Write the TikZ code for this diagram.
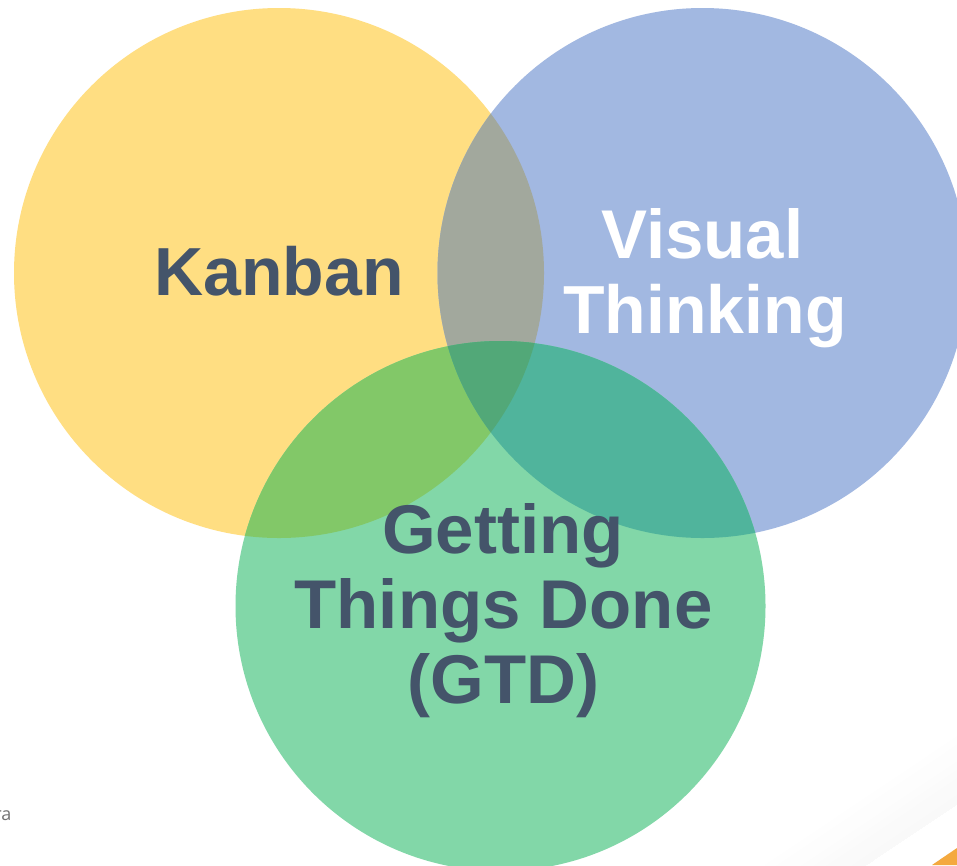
\documentclass[tikz,border=0pt]{standalone}
\usepackage{fontspec}
\setmainfont{Liberation Sans}
\newfontfamily\fragfont{Open Sans}
\usetikzlibrary{calc}
\definecolor{cY}{HTML}{FFDE82}
\definecolor{cB}{HTML}{A2B8E1}
\definecolor{cG}{HTML}{82D7A8}
\definecolor{cYB}{HTML}{A2A89D}
\definecolor{cYG}{HTML}{82C868}
\definecolor{cBG}{HTML}{50B49C}
\definecolor{cYBG}{HTML}{52A878}
\definecolor{cInk}{HTML}{44546A}
\definecolor{cOr}{HTML}{F4A93F}
\tikzset{
  x=1pt,y=-1pt,
  biglabel/.style={font=\fontsize{68}{75}\selectfont\bfseries,align=center,inner sep=0pt,anchor=base},
  biggerlabel/.style={font=\fontsize{69}{75}\selectfont\bfseries,align=center,inner sep=0pt,anchor=base},
}
\newcommand{\circK}{(279,273) circle[radius=265]}
\newcommand{\circV}{(702.5,273) circle[radius=265]}
\newcommand{\circG}{(500.5,606) circle[radius=265]}
\begin{document}
\begin{tikzpicture}
\useasboundingbox (0,0) rectangle (957,865);
\clip (0,0) rectangle (957,865);
\fill[white] (0,0) rectangle (957,865);
% faint shadow, built from nested bands, and the orange corner
\foreach \k in {1,...,8}{
  \pgfmathsetmacro{\off}{(9-\k)*7}
  \pgfmathsetmacro{\shadeval}{\k*0.3}
  \fill[black!\shadeval] (775,926) -- (1048,743) -- ($(1048,743)+(-0.55*\off,-0.83*\off)$) -- ($(775,926)+(-0.55*\off,-0.83*\off)$) -- cycle;
}
\fill[cOr] (932,865) -- (957,848) -- (957,865) -- cycle;
\node[anchor=base east,inner sep=0pt,font=\fragfont\fontsize{18}{20}\selectfont,text=black!55] (frag) at (11.5,820) {ra};
% circles
\fill[cY] \circK;
\fill[cB] \circV;
\fill[cG] \circG;
\begin{scope}\clip \circK; \fill[cYB] \circV; \end{scope}
\begin{scope}\clip \circK; \fill[cYG] \circG; \end{scope}
\begin{scope}\clip \circV; \fill[cBG] \circG; \end{scope}
\begin{scope}\clip \circK; \clip \circV; \fill[cYBG] \circG; \end{scope}
% labels
\node[biglabel,text=cInk] (kanban) at (279,295) {Kanban};
\node[biggerlabel,text=white] (vis) at (702.5,258) {Visual};
\node[biglabel,text=white] (think) at (705,333) {Thinking};
\node[biggerlabel,text=cInk] (get) at (503,553) {Getting};
\node[biggerlabel,text=cInk] (things) at (503.5,628) {Things Done};
\node[biggerlabel,text=cInk] (gtd) at (503.5,703) {(GTD)};
\end{tikzpicture}
\end{document}
